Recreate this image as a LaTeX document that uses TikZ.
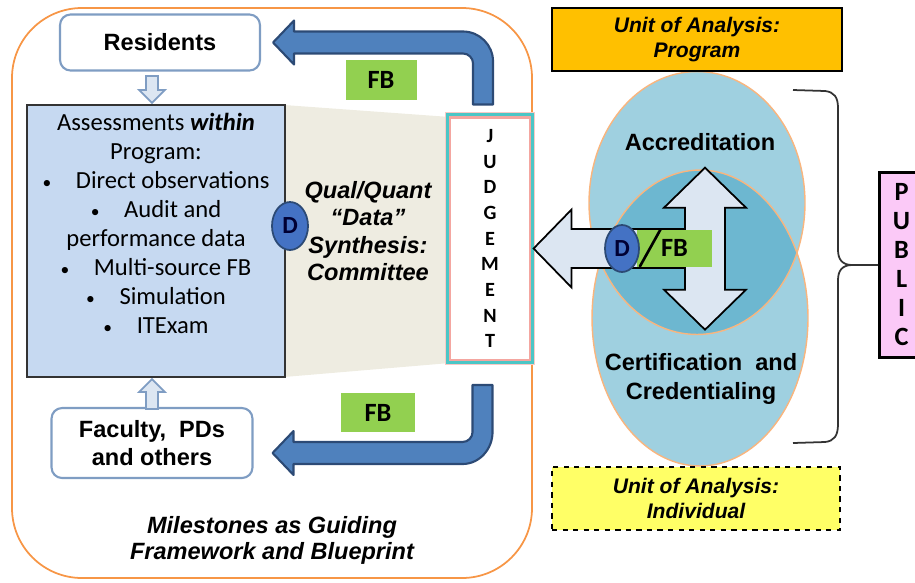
\documentclass[tikz,border=0pt]{standalone}
\usepackage{fontspec}
\setmainfont{Liberation Sans}
\newfontfamily\carlito{Carlito}
\usetikzlibrary{calc,shapes.geometric}

\definecolor{edgeorange}{HTML}{F79646}
\definecolor{assessfill}{HTML}{C6D9F1}
\definecolor{synthfill}{HTML}{EEECE1}
\definecolor{fbblue}{HTML}{4F81BD}
\definecolor{fbnavy}{HTML}{2C4A75}
\definecolor{fbgreen}{HTML}{92D050}
\definecolor{boxrim}{HTML}{7F9DC3}
\definecolor{paleblue}{HTML}{DCE6F2}
\definecolor{judgeteal}{HTML}{4BC6C6}
\definecolor{judgepink}{HTML}{F4A6A0}
\definecolor{progorange}{HTML}{FFC000}
\definecolor{indyellow}{HTML}{FFFF66}
\definecolor{lenslight}{HTML}{9FD0E0}
\definecolor{lensdark}{HTML}{6DB7D0}
\definecolor{publicpink}{HTML}{FBC9F7}
\definecolor{dblue}{HTML}{4472C4}

\newcommand{\listdot}{{\fontsize{10}{10}\selectfont\textbullet}\hspace{1em}}

\tikzset{
  groupbox/.style={draw=boxrim, line width=1.2pt, fill=white, rounded corners=6pt,
    align=center, font=\bfseries\fontsize{13.4}{15.5}\selectfont},
  fbtag/.style={fill=fbgreen, font=\carlito\bfseries\fontsize{15}{18}\selectfont},
  dmark/.style={ellipse, draw=fbnavy, line width=1pt, fill=dblue, inner sep=0pt,
    font=\carlito\bfseries\fontsize{14}{16}\selectfont, text=black!80!blue},
  fbarrow/.style={draw=fbnavy, line width=1.2pt, fill=fbblue, line join=round},
  hollowarrow/.style={draw=black, line width=1pt, fill=paleblue},
  smallarrow/.style={draw=boxrim, line width=1pt, fill=paleblue},
  unitbox/.style={draw=black, line width=1.2pt, align=center, minimum width=5.8cm,
    minimum height=1.26cm, font=\bfseries\itshape\fontsize{12}{14.2}\selectfont},
  lens/.style={ellipse, inner sep=0pt, minimum width=4.32cm},
  lensrim/.style={draw=edgeorange!70, line width=0.8pt},
  heading/.style={align=center, font=\bfseries\fontsize{13.4}{16}\selectfont},
  slanted/.style={align=center, font=\bfseries\itshape\fontsize{13.4}{15.5}\selectfont},
  letters/.style 2 args={align=center, font=\carlito\bfseries\fontsize{#1}{#2}\selectfont},
}

\begin{document}
\begin{tikzpicture}[x=0.02cm, y=-0.02cm]
\useasboundingbox (0,0) rectangle (915,582);

% program frame
\draw[edgeorange, line width=1pt, rounded corners=1.4cm] (12,8) rectangle (532,578);
\fill[synthfill] (284,105) -- (450,117) -- (450,363) -- (284,377) -- cycle;

\node[draw=black!80, line width=1.2pt, fill=assessfill, minimum width=5.16cm, minimum height=5.44cm] (assess) at (156,241) {};
\node[align=center, font=\carlito\fontsize{14}{16.5}\selectfont] (assesstext) at (156,223)
  {Assessments \textbf{\itshape within}\\Program:\\
   \listdot Direct observations\\
   \listdot Audit and\\performance data\\
   \listdot Multi-source FB\\
   \listdot Simulation\\
   \listdot ITExam};

\node[groupbox, minimum width=4cm, minimum height=1.12cm] (res) at (160,42.5) {Residents};
\node[groupbox, minimum width=4.02cm, minimum height=1.4cm] (fac) at (152,443) {Faculty,\ \ PDs\\and others};

% small arrows into the assessments
\draw[smallarrow] ($(assess.north)+(-4,-1)$) -- ++(-13,-13) -- ++(7,0) -- ++(0,-14) -- ++(12,0) -- ++(0,14) -- ++(7,0) -- cycle;
\draw[smallarrow] ($(assess.south)+(-4,1)$) -- ++(-13,13) -- ++(7,0) -- ++(0,17) -- ++(12,0) -- ++(0,-17) -- ++(7,0) -- cycle;

% feedback arrows
\coordinate (fbtoptip) at ($(res.east)+(12,0)$);
\draw[fbarrow] (fbtoptip) -- ++(21,-22) -- ++(0,11) -- ++(169,0)
  .. controls +(16.5,0) and +(0,-16.5) .. ++(30,30) -- ++(0,43) -- ++(-20,0) -- ++(0,-41)
  .. controls +(0,-5.5) and +(5.5,0) .. ++(-10,-10) -- ++(-169,0) -- ++(0,11) -- cycle;
\coordinate (fbbottip) at ($(fac.east)+(19,10)$);
\draw[fbarrow] (fbbottip) -- ++(21,-22) -- ++(0,11) -- ++(169,0)
  .. controls +(5.5,0) and +(0,5.5) .. ++(10,-10) -- ++(0,-47) -- ++(20,0) -- ++(0,47)
  .. controls +(0,17) and +(17,0) .. ++(-30,32) -- ++(-169,0) -- ++(0,11) -- cycle;
\node[fbtag, minimum width=1.42cm, minimum height=0.8cm] (fbtop) at (381,80) {FB};
\node[fbtag, minimum width=1.48cm, minimum height=0.78cm] (fbbot) at (378,412.5) {FB};

\node[draw=judgeteal, line width=1.8pt, fill=white, minimum width=1.68cm, minimum height=4.94cm, letters={11.5}{14.6}] (judge) at (490,238.5) {J\\U\\D\\G\\E\\M\\E\\N\\T};
\draw[judgepink, line width=1.2pt] ($(judge.north west)+(4,4)$) rectangle ($(judge.south east)+(-4,-4)$);
\draw[judgepink!60, line width=0.6pt] ($(judge.north west)+(-1,-1)$) rectangle ($(judge.south east)+(1,1)$);

\node[dmark, minimum width=0.72cm, minimum height=0.96cm] (dleft) at (290,226) {D};
\node[slanted] (synth) at (368,231) {Qual/Quant\\“Data”\\Synthesis:\\Committee};
\node[slanted, font=\bfseries\itshape\fontsize{13.4}{14.8}\selectfont] (miles) at (272,540) {Milestones as Guiding\\Framework and Blueprint};

% program and individual
\node[lens, fill=lenslight, minimum height=5.26cm] (acc) at (697,203) {};
\node[lens, fill=lenslight, minimum height=5.92cm] (cert) at (700,318) {};
\begin{scope}
\clip (acc.center) ellipse [x radius=2.16cm, y radius=2.63cm];
\fill[lensdark] (cert.center) ellipse [x radius=2.16cm, y radius=2.96cm];
\end{scope}
\draw[lensrim] (acc.center) ellipse [x radius=2.16cm, y radius=2.63cm];
\draw[lensrim] (cert.center) ellipse [x radius=2.16cm, y radius=2.96cm];

\node[unitbox, fill=progorange] (unitprog) at (697,39.5) {Unit of Analysis:\\Program};
\node[unitbox, fill=indyellow, dashed, minimum width=5.76cm] (unitind) at (696,498.5) {Unit of Analysis:\\Individual};

\draw[hollowarrow] ($(judge.east)+(0,10)$) -- ++(38,-39) -- ++(0,19.5) -- ++(120,0) -- ++(0,39) -- ++(-120,0) -- ++(0,19.5) -- cycle;
\draw[hollowarrow] ($(cert.north)+(5,-2)$) -- ++(41,40) -- ++(-21,0) -- ++(0,82) -- ++(21,0) -- ++(-41,40)
  -- ++(-41,-40) -- ++(21,0) -- ++(0,-82) -- ++(-21,0) -- cycle;

\node[fbtag, minimum width=1.5cm, minimum height=0.74cm] (fbmid) at (674.5,248) {FB};
\node[dmark, minimum width=0.68cm, minimum height=0.94cm] (dmid) at (622,248.5) {D};
\draw[line width=1.5pt] ($(fbmid.south west)+(3,0)$) -- ($(fbmid.north west)+(24,0)$);

\node[heading] (acctext) at (700,142) {Accreditation};
\node[heading] (certtext) at (701,379) {Certification\ \ and\\Credentialing};

\node[draw, line width=1.8pt, fill=publicpink, minimum width=0.88cm, minimum height=3.7cm, anchor=west, letters={15}{16.5}] (public) at (878,265) {P\\U\\B\\L\\I\\C};
\draw[black!80, line width=1pt] (793,90) -- (825,91) .. controls (834,92) and (838,97) .. (838,108) -- (838,250)
  .. controls (838,259) and (842,265) .. (852,265) -- (public.west);
\draw[black!80, line width=1pt] (852,265) .. controls (842,265) and (838,271) .. (838,280) -- (838,424)
  .. controls (838,436) and (834,441) .. (825,442) -- (793,443);
\end{tikzpicture}
\end{document}
